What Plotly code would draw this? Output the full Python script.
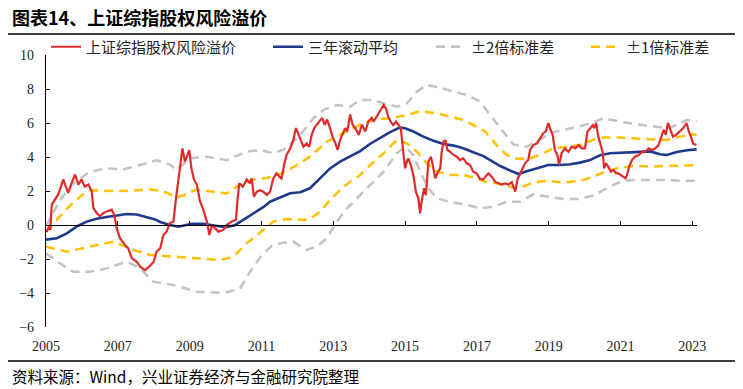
import plotly.graph_objects as go

# ---------------- data ----------------
tick_years = [2005, 2007, 2009, 2011, 2013, 2015, 2017, 2019, 2021, 2023]
tick_labels = ["2005", "2007", "2009", "2011", "2013", "2015", "2017", "2019", "2021", "2023"]
y_ticks = [-6, -4, -2, 0, 2, 4, 6, 8, 10]

# 上证综指股权风险溢价 (red)
erp_t = [2005.00, 2005.02, 2005.08, 2005.12, 2005.16, 2005.21, 2005.34, 2005.39, 2005.48, 2005.53,
         2005.62, 2005.71, 2005.81, 2005.90, 2005.99, 2006.08, 2006.18, 2006.27, 2006.32, 2006.41,
         2006.50, 2006.60, 2006.69, 2006.83, 2006.90, 2006.97, 2007.06, 2007.20, 2007.29, 2007.39,
         2007.53, 2007.62, 2007.76, 2007.90, 2008.00, 2008.08, 2008.18, 2008.27, 2008.36, 2008.45,
         2008.55, 2008.62, 2008.68, 2008.73, 2008.80, 2008.87, 2008.93, 2008.99, 2009.05, 2009.12,
         2009.20, 2009.29, 2009.38, 2009.48, 2009.55, 2009.62, 2009.71, 2009.80, 2009.94, 2010.03,
         2010.17, 2010.29, 2010.33, 2010.38, 2010.48, 2010.59, 2010.68, 2010.73, 2010.79, 2010.87,
         2010.96, 2011.05, 2011.15, 2011.24, 2011.33, 2011.42, 2011.50, 2011.56, 2011.63, 2011.70,
         2011.80, 2011.89, 2011.96, 2012.03, 2012.10, 2012.17, 2012.26, 2012.33, 2012.40, 2012.47,
         2012.54, 2012.61, 2012.69, 2012.76, 2012.83, 2012.91, 2012.98, 2013.06, 2013.12, 2013.19,
         2013.26, 2013.33, 2013.39, 2013.47, 2013.54, 2013.64, 2013.71, 2013.80, 2013.89, 2013.98,
         2014.07, 2014.12, 2014.21, 2014.30, 2014.40, 2014.47, 2014.53, 2014.60, 2014.67, 2014.75,
         2014.81, 2014.88, 2014.92, 2014.96, 2015.00, 2015.05, 2015.09, 2015.16, 2015.23, 2015.30,
         2015.37, 2015.42, 2015.46, 2015.53, 2015.58, 2015.65, 2015.72, 2015.77, 2015.84, 2015.92,
         2015.98, 2016.02, 2016.07, 2016.12, 2016.18, 2016.25, 2016.35, 2016.44, 2016.53, 2016.62,
         2016.72, 2016.81, 2016.90, 2016.99, 2017.09, 2017.18, 2017.23, 2017.32, 2017.41, 2017.51,
         2017.60, 2017.69, 2017.79, 2017.88, 2017.97, 2018.07, 2018.13, 2018.20, 2018.27, 2018.34,
         2018.43, 2018.48, 2018.57, 2018.67, 2018.76, 2018.85, 2018.92, 2018.99, 2019.05, 2019.11,
         2019.17, 2019.24, 2019.29, 2019.36, 2019.45, 2019.55, 2019.64, 2019.74, 2019.83, 2019.92,
         2020.01, 2020.08, 2020.16, 2020.23, 2020.27, 2020.32, 2020.38, 2020.45, 2020.51, 2020.54,
         2020.60, 2020.66, 2020.73, 2020.80, 2020.88, 2020.94, 2021.01, 2021.08, 2021.14, 2021.18,
         2021.24, 2021.32, 2021.40, 2021.51, 2021.60, 2021.69, 2021.79, 2021.88, 2021.97, 2022.06,
         2022.13, 2022.20, 2022.26, 2022.32, 2022.39, 2022.46, 2022.55, 2022.65, 2022.74, 2022.84,
         2022.90, 2022.96, 2023.02, 2023.11]
erp_v = [-0.25, -0.40, -0.10, -0.30, 1.20, 1.37, 1.80, 2.09, 2.68, 2.38,
         1.89, 2.45, 2.97, 2.38, 2.68, 2.25, 2.38, 2.00, 1.00, 0.71,
         0.52, 0.70, 0.80, 0.90, 0.60, -0.20, -0.78, -1.17, -1.37, -1.96,
         -2.16, -2.45, -2.65, -2.40, -2.16, -1.57, -1.37, -0.59, -0.39, 0.10,
         0.20, 1.57, 2.55, 3.43, 4.51, 3.72, 4.12, 4.41, 3.33, 2.68,
         2.38, 1.39, 0.90, 0.20, -0.59, 0.00, -0.20, -0.39, -0.29, 0.00,
         0.20, 0.30, 1.37, 2.45, 2.25, 2.68, 2.45, 2.74, 1.66, 1.96,
         2.05, 1.96, 1.77, 1.96, 2.74, 3.04, 2.84, 2.74, 3.53, 4.12,
         4.50, 5.00, 5.70, 5.30, 5.00, 4.60, 4.80, 4.60, 5.30, 5.70,
         5.90, 6.10, 6.30, 5.90, 6.20, 5.70, 5.20, 4.80, 4.41, 5.00,
         5.40, 5.70, 5.50, 6.50, 5.90, 5.60, 5.30, 5.90, 5.50, 6.10,
         6.30, 6.08, 6.37, 6.67, 7.06, 6.86, 6.37, 6.08, 5.88, 6.08,
         5.88, 5.69, 4.90, 4.12, 3.33, 3.73, 3.92, 3.53, 2.94, 1.96,
         1.57, 0.69, 1.37, 2.16, 1.76, 3.73, 4.02, 3.53, 2.75, 3.14,
         3.33, 4.31, 4.90, 5.00, 4.41, 4.31, 4.12, 4.02, 3.82, 3.92,
         3.63, 3.53, 3.14, 3.04, 2.70, 2.70, 2.84, 3.04, 2.84, 2.55,
         2.45, 2.38, 2.45, 2.38, 2.52, 1.96, 2.68, 2.97, 3.27, 3.63,
         3.82, 4.41, 4.70, 4.80, 5.10, 5.40, 5.50, 6.00, 5.60, 5.30,
         4.41, 4.12, 3.53, 4.22, 4.51, 4.31, 4.61, 4.51, 4.70, 4.51,
         4.51, 5.50, 5.69, 5.88, 5.69, 6.00, 5.20, 4.70, 4.22, 3.33,
         3.63, 3.43, 3.14, 3.24, 3.04, 3.04, 2.94, 2.84, 2.74, 2.94,
         3.43, 3.82, 4.02, 4.12, 4.31, 4.31, 4.51, 4.41, 4.51, 4.70,
         5.10, 5.60, 5.30, 6.00, 5.60, 5.20, 5.30, 5.50, 5.69, 6.00,
         5.50, 5.20, 4.80, 4.70]

# 三年滚动平均 (blue)
avg_t = [2005.00, 2005.30, 2005.58, 2005.86, 2006.13, 2006.41, 2006.69, 2006.97, 2007.25, 2007.53,
         2007.80, 2008.04, 2008.18, 2008.45, 2008.69, 2008.87, 2009.06, 2009.38, 2009.66, 2009.99,
         2010.26, 2010.50, 2010.77, 2011.05, 2011.24, 2011.52, 2011.80, 2012.08, 2012.35, 2012.63,
         2012.91, 2013.19, 2013.47, 2013.75, 2014.03, 2014.30, 2014.57, 2014.85, 2015.00, 2015.23,
         2015.51, 2015.79, 2016.07, 2016.35, 2016.62, 2016.90, 2017.18, 2017.37, 2017.65, 2017.93,
         2018.16, 2018.39, 2018.67, 2018.99, 2019.32, 2019.60, 2019.87, 2020.15, 2020.29, 2020.43,
         2020.71, 2020.99, 2021.27, 2021.55, 2021.83, 2022.10, 2022.29, 2022.57, 2022.85, 2023.12]
avg_v = [-0.86, -0.78, -0.49, -0.08, 0.20, 0.37, 0.47, 0.57, 0.65, 0.62,
         0.45, 0.33, 0.18, 0.00, -0.10, 0.00, 0.07, 0.07, -0.03, -0.13,
         -0.01, 0.30, 0.70, 1.05, 1.37, 1.61, 1.87, 1.93, 2.16, 2.74,
         3.33, 3.73, 4.02, 4.35, 4.78, 5.10, 5.45, 5.73, 5.69, 5.50,
         5.20, 4.96, 4.77, 4.67, 4.51, 4.28, 4.05, 3.82, 3.47, 3.20,
         3.00, 3.16, 3.33, 3.53, 3.53, 3.57, 3.67, 3.82, 3.96, 4.10,
         4.22, 4.26, 4.30, 4.30, 4.33, 4.16, 4.12, 4.30, 4.40, 4.45]

# ±1倍标准差 (orange)
up1_t = [2005.00, 2005.25, 2005.39, 2005.60, 2005.76, 2006.00, 2006.23, 2006.69, 2007.15, 2007.50,
         2007.90, 2008.20, 2008.36, 2008.64, 2008.90, 2009.20, 2009.50, 2009.85, 2010.03, 2010.40,
         2010.77, 2011.15, 2011.52, 2011.89, 2012.35, 2012.82, 2013.28, 2013.75, 2014.16, 2014.58,
         2015.05, 2015.42, 2015.88, 2016.25, 2016.62, 2017.00, 2017.23, 2017.55, 2017.83, 2018.11,
         2018.48, 2018.85, 2019.13, 2019.50, 2019.87, 2020.29, 2020.52, 2020.99, 2021.45, 2021.92,
         2022.29, 2022.66, 2023.03, 2023.12]
up1_v = [-0.40, 0.20, 0.52, 1.00, 1.30, 1.75, 2.05, 2.00, 2.00, 2.05,
         2.09, 2.00, 1.90, 1.60, 1.85, 2.09, 2.00, 1.90, 1.85, 2.38,
         2.68, 2.77, 3.00, 3.40, 4.02, 4.90, 5.40, 5.90, 6.20, 6.28,
         6.47, 6.70, 6.57, 6.37, 6.18, 5.78, 5.50, 4.70, 4.12, 3.90,
         3.90, 4.22, 4.51, 4.60, 4.70, 5.05, 5.14, 5.14, 5.10, 5.06,
         5.00, 5.20, 5.33, 5.30]
lo1_t = [2005.00, 2005.58, 2006.23, 2006.88, 2007.43, 2007.90, 2008.55, 2009.20, 2009.85, 2010.22,
         2010.59, 2011.05, 2011.33, 2011.70, 2012.17, 2012.35, 2012.63, 2012.91, 2013.19, 2013.47,
         2013.75, 2014.03, 2014.40, 2014.77, 2015.05, 2015.33, 2015.60, 2015.88, 2016.25, 2016.62,
         2017.00, 2017.23, 2017.55, 2018.02, 2018.29, 2018.57, 2018.94, 2019.41, 2019.87, 2020.25,
         2020.52, 2020.89, 2021.36, 2021.83, 2022.29, 2022.66, 2023.12]
lo1_v = [-1.27, -1.57, -1.27, -0.98, -1.47, -1.76, -1.86, -1.96, -2.06, -1.86,
         -1.08, -0.29, 0.20, 0.35, 0.30, 0.35, 0.78, 1.47, 2.06, 2.55,
         2.94, 3.53, 4.22, 5.00, 4.80, 4.31, 3.63, 3.14, 2.94, 2.94,
         2.75, 2.55, 2.45, 2.20, 2.25, 2.50, 2.60, 2.50, 2.60, 2.84,
         3.10, 3.33, 3.49, 3.43, 3.49, 3.49, 3.53]

# ±2倍标准差 (gray)
up2_t = [2005.00, 2005.39, 2005.76, 2006.23, 2006.69, 2007.15, 2007.62, 2008.08, 2008.45, 2008.64,
         2009.01, 2009.48, 2010.03, 2010.59, 2010.96, 2011.33, 2011.70, 2012.08, 2012.45, 2012.73,
         2013.10, 2013.47, 2013.75, 2014.12, 2014.40, 2014.77, 2015.05, 2015.33, 2015.60, 2015.98,
         2016.35, 2016.72, 2017.09, 2017.37, 2017.65, 2018.02, 2018.39, 2018.67, 2019.04, 2019.41,
         2019.87, 2020.29, 2020.52, 2020.99, 2021.45, 2022.01, 2022.29, 2022.57, 2022.85, 2023.12]
up2_v = [-0.08, 1.47, 2.45, 3.14, 3.33, 3.27, 3.53, 3.80, 3.55, 3.24,
         3.92, 4.02, 3.82, 4.31, 4.41, 4.22, 4.51, 5.30, 6.28, 6.77,
         7.06, 6.96, 7.35, 7.35, 7.16, 6.96, 7.16, 7.84, 8.24, 8.08,
         7.84, 7.65, 7.25, 6.47, 5.69, 4.74, 4.61, 4.90, 5.40, 5.60,
         5.80, 6.08, 6.28, 6.08, 5.92, 5.78, 5.69, 5.88, 6.18, 6.10]
lo2_t = [2005.00, 2005.39, 2005.76, 2006.23, 2006.69, 2007.25, 2007.62, 2007.99, 2008.55, 2009.20,
         2009.94, 2010.40, 2010.70, 2011.00, 2011.30, 2011.60, 2011.89, 2012.26, 2012.54, 2012.82,
         2013.10, 2013.38, 2013.66, 2013.94, 2014.16, 2014.40, 2014.77, 2015.00, 2015.23, 2015.42,
         2015.65, 2015.88, 2016.25, 2016.72, 2017.09, 2017.46, 2017.83, 2018.20, 2018.57, 2018.94,
         2019.41, 2019.87, 2020.29, 2020.52, 2020.89, 2021.27, 2021.73, 2022.20, 2022.66, 2023.12]
lo2_v = [-1.67, -2.26, -2.75, -2.75, -2.55, -2.16, -2.55, -3.33, -3.53, -3.92,
         -4.00, -3.75, -2.70, -1.80, -1.20, -1.05, -0.98, -1.47, -1.27, -0.78,
         0.20, 0.98, 1.57, 2.16, 2.65, 3.14, 4.22, 4.61, 4.12, 3.14,
         2.16, 1.57, 1.37, 1.18, 0.98, 1.08, 1.37, 1.37, 1.80, 1.67,
         1.53, 1.53, 1.76, 2.06, 2.45, 2.65, 2.65, 2.65, 2.60, 2.60]

x_range = [2005.0, 2023.13]
y_range = [-6, 10]

# ---------------- styles ----------------
RED = "#E02B2B"
BLUE = "#1F3A8C"
GRAY = "#C3C3C3"
ORANGE = "#FFC000"
CJK = "Noto Sans CJK SC"
SERIF = "Liberation Serif"

W, H = 743, 389
ML, MR, MT, MB = 46, 46, 55, 62
PW, PH = W - ML - MR, H - MT - MB


def px_x(px):
    return (px - ML) / PW


def px_y(py):
    return 1 - (py - MT) / PH


fig = go.Figure()

dash_style = "9px,6px"
fig.add_trace(go.Scatter(x=up2_t, y=up2_v, mode="lines", name="±2倍标准差",
                         line=dict(color=GRAY, width=2.5, dash=dash_style),
                         legendgroup="g2", legend="legend3"))
fig.add_trace(go.Scatter(x=lo2_t, y=lo2_v, mode="lines", name="±2倍标准差",
                         line=dict(color=GRAY, width=2.5, dash=dash_style),
                         legendgroup="g2", showlegend=False, legend="legend3"))
fig.add_trace(go.Scatter(x=up1_t, y=up1_v, mode="lines", name="±1倍标准差",
                         line=dict(color=ORANGE, width=2.5, dash=dash_style),
                         legendgroup="g1", legend="legend4"))
fig.add_trace(go.Scatter(x=lo1_t, y=lo1_v, mode="lines", name="±1倍标准差",
                         line=dict(color=ORANGE, width=2.5, dash=dash_style),
                         legendgroup="g1", showlegend=False, legend="legend4"))
fig.add_trace(go.Scatter(x=avg_t, y=avg_v, mode="lines", name="三年滚动平均",
                         line=dict(color=BLUE, width=2.6), legend="legend2"))
fig.add_trace(go.Scatter(x=erp_t, y=erp_v, mode="lines", name="上证综指股权风险溢价",
                         line=dict(color=RED, width=2.2), legend="legend"))
# carrier for the bottom label axis
fig.add_trace(go.Scatter(x=[], y=[], xaxis="x2", showlegend=False, hoverinfo="skip"))

zero_pos = (0 - y_range[0]) / (y_range[1] - y_range[0])

leg_common = dict(orientation="h", xanchor="left", yanchor="middle", y=px_y(47),
                  font=dict(family=CJK, size=15, color="#222"),
                  bgcolor="rgba(0,0,0,0)", borderwidth=0)

fig.update_layout(
    width=W, height=H,
    margin=dict(l=ML, r=MR, t=MT, b=MB, autoexpand=False),
    paper_bgcolor="white", plot_bgcolor="white",
    showlegend=True,
    legend=dict(x=px_x(46), **leg_common),
    legend2=dict(x=px_x(268), **leg_common),
    legend3=dict(x=px_x(431), **leg_common),
    legend4=dict(x=px_x(586), **leg_common),
    xaxis=dict(range=x_range, anchor="free", position=zero_pos,
               showline=True, linecolor="black", linewidth=1.3,
               ticks="inside", ticklen=4, tickcolor="black", tickwidth=1,
               tickvals=tick_years, showticklabels=False,
               showgrid=False, zeroline=False),
    xaxis2=dict(range=x_range, overlaying="x", anchor="y", side="bottom",
                showline=False, ticks="", tickvals=tick_years, ticktext=tick_labels,
                ticklabelstandoff=9,
                tickfont=dict(family=SERIF, size=14, color="#222"),
                showgrid=False, zeroline=False),
    yaxis=dict(range=y_range, tickvals=y_ticks, showline=True, linecolor="black",
               linewidth=1.3, ticks="inside", ticklen=4, tickcolor="black",
               ticklabelstandoff=8,
               tickfont=dict(family=SERIF, size=14, color="#222"),
               showgrid=False, zeroline=False),
)

# title, rules and source note
fig.add_annotation(text="<b>图表14、上证综指股权风险溢价</b>", xref="paper", yref="paper",
                   x=px_x(10), y=px_y(17), xanchor="left", yanchor="middle",
                   showarrow=False, font=dict(family=CJK, size=18, color="black"))
fig.add_shape(type="line", xref="paper", yref="paper",
              x0=px_x(8), x1=px_x(735), y0=px_y(34), y1=px_y(34),
              line=dict(color="black", width=1.5))
fig.add_shape(type="line", xref="paper", yref="paper",
              x0=px_x(8), x1=px_x(735), y0=px_y(361), y1=px_y(361),
              line=dict(color="black", width=1.5))
fig.add_annotation(text="资料来源：Wind，兴业证券经济与金融研究院整理", xref="paper", yref="paper",
                   x=px_x(10), y=px_y(376), xanchor="left", yanchor="middle",
                   showarrow=False, font=dict(family=CJK, size=15.5, color="black"))

# the page body has a default 8px margin; remove it so the figure fills the window
fig.write_html("out.html", config={"displayModeBar": False},
               post_script="document.body.style.margin='0';")
